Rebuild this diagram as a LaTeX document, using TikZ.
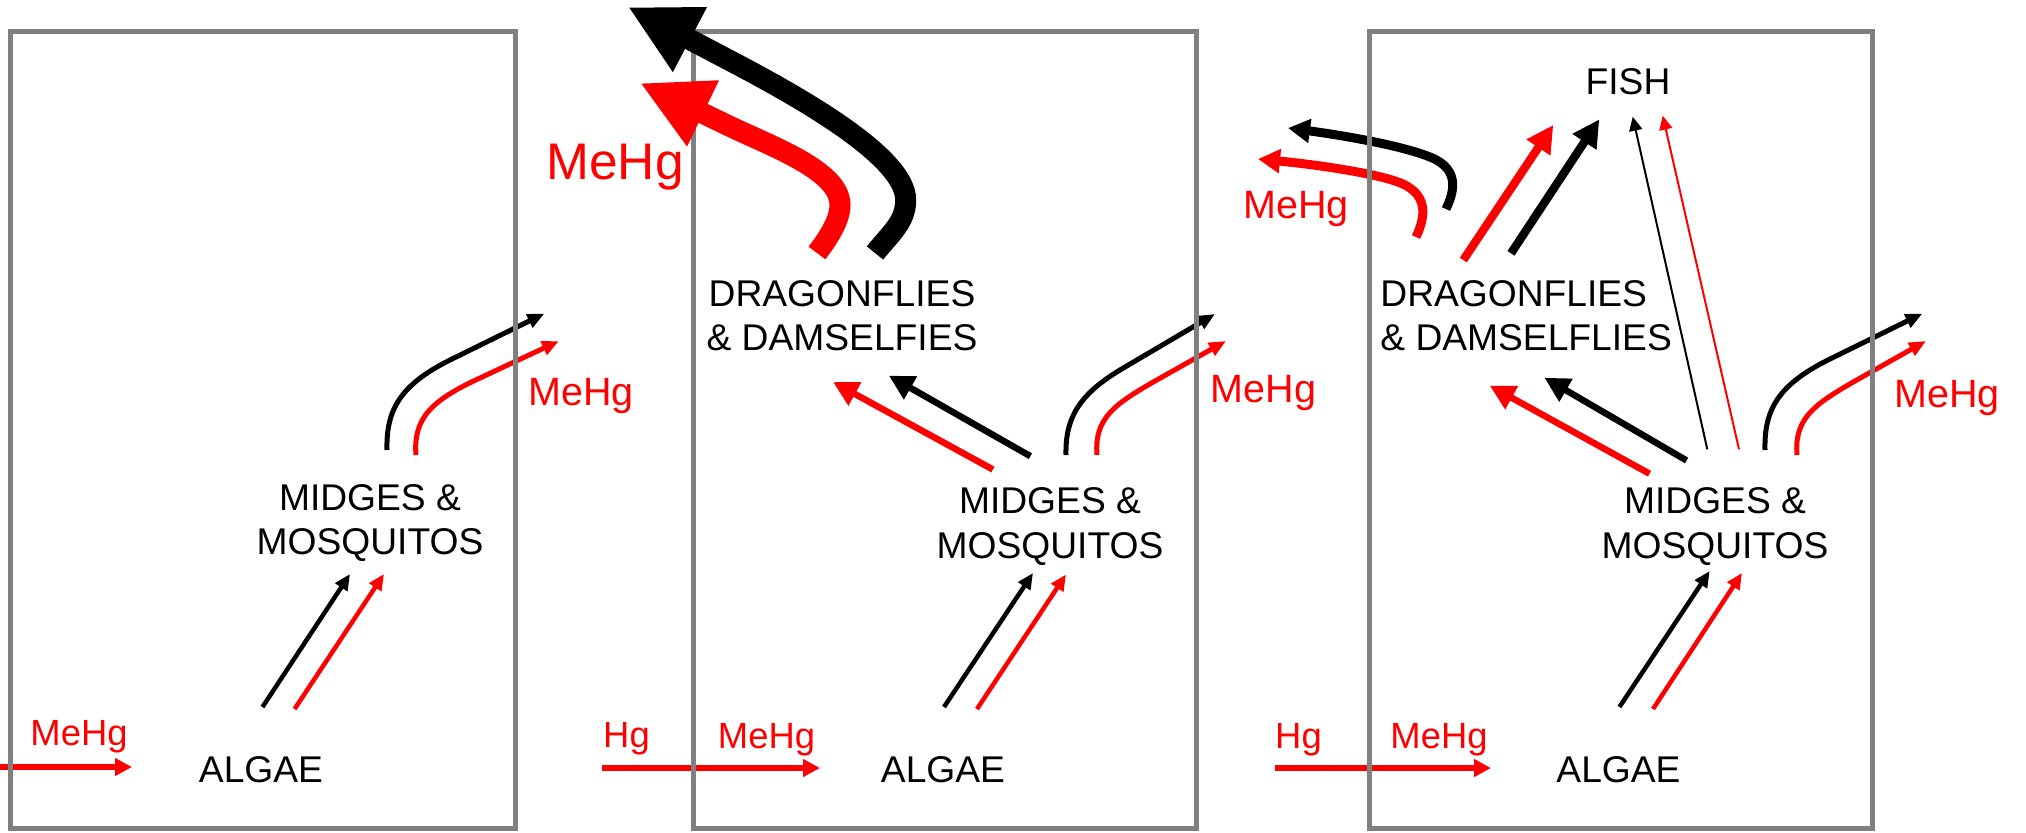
\documentclass[tikz,border=0pt]{standalone}
\usepackage{fontspec}
\setmainfont{Liberation Sans}
\usetikzlibrary{arrows.meta}
\definecolor{hgred}{RGB}{255,0,0}
\definecolor{panelgray}{RGB}{128,128,128}
\begin{document}
\begin{tikzpicture}[x=0.5pt,y=-0.5pt,
  panel/.style={draw=panelgray, line width=2.5pt},
  txt/.style={inner sep=0pt, anchor=base, text=black, font=\fontsize{18.6pt}{22.4pt}\selectfont},
  lowlbl/.style={inner sep=0pt, anchor=base, text=hgred, font=\fontsize{18.2pt}{22pt}\selectfont},
  uplbl/.style={inner sep=0pt, anchor=base, text=hgred, font=\fontsize{19.75pt}{24pt}\selectfont},
  biglbl/.style={inner sep=0pt, anchor=base, text=hgred, font=\fontsize{25.75pt}{30pt}\selectfont},
  feed/.style={line width=2.25pt, -{Triangle[length=8pt,width=7pt]}},
  emerge/.style={line width=2.5pt, -{Triangle[length=8.5pt,width=7pt]}},
  inflow/.style={line width=3pt, hgred, -{Triangle[length=8.5pt,width=8.5pt]}},
  prey/.style={line width=3.25pt, -{Triangle[length=12.5pt,width=12.5pt]}},
  eaten/.style={line width=4.2pt, -{Triangle[length=13.5pt,width=13.5pt]}},
  thinfeed/.style={line width=1pt, -{Triangle[length=7pt,width=6.5pt]}},
  adultout/.style={line width=4.5pt, -{Triangle[length=11pt,width=11.5pt]}},
  bigout/.style={line width=10.5pt, -{Triangle[length=35pt,width=34pt]}}]
\useasboundingbox (0,0) rectangle (2026,832);

% ---------- text ----------
\node[txt] (alg1) at (261,782) {ALGAE};
\node[txt] (mid1) at (370,510) {\begin{tabular}[t]{@{}c@{}}MIDGES \&\\MOSQUITOS\end{tabular}};
\node[txt] (alg2) at (943,782) {ALGAE};
\node[txt] (mid2) at (1050,513.5) {\begin{tabular}[t]{@{}c@{}}MIDGES \&\\MOSQUITOS\end{tabular}};
\node[txt] (dd2) at (842,306) {\begin{tabular}[t]{@{}c@{}}DRAGONFLIES\\\& DAMSELFIES\end{tabular}};
\node[txt] (alg3) at (1618.5,782.5) {ALGAE};
\node[txt] (mid3) at (1715,513.5) {\begin{tabular}[t]{@{}c@{}}MIDGES \&\\MOSQUITOS\end{tabular}};
\node[txt, anchor=base west] (dd3) at (1380,306) {\begin{tabular}[t]{@{}l@{}}DRAGONFLIES\\\& DAMSELFLIES\end{tabular}};
\node[txt] (fish) at (1628,94.4) {FISH};

\node[lowlbl] (in1) at (79,745) {MeHg};
\node[lowlbl] (hg12) at (626.5,747) {Hg};
\node[lowlbl] (in2) at (766.5,748) {MeHg};
\node[lowlbl] (hg23) at (1298.5,748) {Hg};
\node[lowlbl] (in3) at (1439,748) {MeHg};
\node[uplbl] (out1) at (581,405) {MeHg};
\node[uplbl] (out2) at (1263.5,402) {MeHg};
\node[uplbl] (out3) at (1947,407) {MeHg};
\node[uplbl] (out3dd) at (1296,218.3) {MeHg};
\node[biglbl] (out2dd) at (615,179) {MeHg};

% ---------- connector end points ----------
% inputs along the bottom
\coordinate (h1s) at (0,767);     \coordinate (h1e) at (132,767);
\coordinate (h2s) at (602,768);   \coordinate (h2e) at (820,768);
\coordinate (h3s) at (1275,768);  \coordinate (h3e) at (1491,768);
% algae to midges
\coordinate (am1ks) at (262.5,707);  \coordinate (am1ke) at (350,574);
\coordinate (am1rs) at (294.6,709);  \coordinate (am1re) at (384,574);
\coordinate (am2ks) at (944,707);    \coordinate (am2ke) at (1033,573);
\coordinate (am2rs) at (977,709);    \coordinate (am2re) at (1066,574.5);
\coordinate (am3ks) at (1619.4,707); \coordinate (am3ke) at (1709.7,571);
\coordinate (am3rs) at (1653,709);   \coordinate (am3re) at (1742,573);
% midges emerging
\coordinate (em1ks) at (387,450);   \coordinate (em1ke) at (544.5,313.5);
\coordinate (em1rs) at (416,455);   \coordinate (em1re) at (559,341);
\coordinate (em2ks) at (1066,455);  \coordinate (em2ke) at (1215,314);
\coordinate (em2rs) at (1097,455);  \coordinate (em2re) at (1226,341);
\coordinate (em3ks) at (1765,450);  \coordinate (em3ke) at (1922.5,313.5);
\coordinate (em3rs) at (1797,455);  \coordinate (em3re) at (1926,341);
% midges to dragonflies
\coordinate (md2ks) at (1030.4,456.2); \coordinate (md2ke) at (888.8,375.6);
\coordinate (md2rs) at (992.9,469.5);  \coordinate (md2re) at (833,382);
\coordinate (md3ks) at (1686.6,460.5); \coordinate (md3ke) at (1544.4,377.7);
\coordinate (md3rs) at (1649.5,473.7); \coordinate (md3re) at (1489.8,385.7);
% to fish
\coordinate (dfrs) at (1463.3,260);   \coordinate (dfre) at (1553.3,125);
\coordinate (dfks) at (1511,253.3);   \coordinate (dfke) at (1599.3,119.3);
\coordinate (mfks) at (1707.3,449.3); \coordinate (mfke) at (1632.7,116.7);
\coordinate (mfrs) at (1739,449.3);   \coordinate (mfre) at (1662.7,115.7);
% adult dragonflies leaving
\coordinate (do3ks) at (1446,209);  \coordinate (do3ke) at (1288,128);
\coordinate (do3rs) at (1416,237);  \coordinate (do3re) at (1258,159);
\coordinate (do2ks) at (875,253);   \coordinate (do2ke) at (628,7);
\coordinate (do2rs) at (817,253);   \coordinate (do2re) at (640,83);

% ---------- fluxes drawn beneath the panel frames ----------
\draw[inflow] (h1s) -- (h1e);
\draw[inflow] (h2s) -- (h2e);
\draw[inflow] (h3s) -- (h3e);

\draw[emerge, black] (em1ks) .. controls (386,410) and (400,385) .. (450,360) -- (em1ke);
\draw[emerge, hgred] (em1rs) .. controls (413,418) and (432,400) .. (480,378) -- (em1re);
\draw[emerge, black] (em2ks) .. controls (1065,415) and (1082,392) .. (1125,367) -- (em2ke);
\draw[emerge, hgred] (em2rs) .. controls (1094,418) and (1115,404) .. (1155,381) -- (em2re);
\draw[emerge, black] (em3ks) .. controls (1764,410) and (1778,385) .. (1828,360) -- (em3ke);
\draw[emerge, hgred] (em3rs) .. controls (1794,418) and (1815,404) .. (1855,381) -- (em3re);

\draw[adultout, black] (do3ks) .. controls (1452,196) and (1463,170) .. (1430,157)
   .. controls (1400,145) and (1340,135) .. (do3ke);
\draw[adultout, hgred] (do3rs) .. controls (1422,224) and (1434,195) .. (1398,182)
   .. controls (1370,172) and (1310,164) .. (do3re);

% ---------- panel frames ----------
\draw[panel] (10.5,31) rectangle (515.5,828.5);
\draw[panel] (693.5,31) rectangle (1196,828.5);
\draw[panel] (1369,31) rectangle (1872,828.5);

% ---------- fluxes inside the panels ----------
\draw[feed, black] (am1ks) -- (am1ke);
\draw[feed, hgred] (am1rs) -- (am1re);
\draw[feed, black] (am2ks) -- (am2ke);
\draw[feed, hgred] (am2rs) -- (am2re);
\draw[feed, black] (am3ks) -- (am3ke);
\draw[feed, hgred] (am3rs) -- (am3re);

\draw[prey, black] (md2ks) -- (md2ke);
\draw[prey, hgred] (md2rs) -- (md2re);
\draw[prey, black] (md3ks) -- (md3ke);
\draw[prey, hgred] (md3rs) -- (md3re);

\draw[eaten, hgred] (dfrs) -- (dfre);
\draw[eaten, black] (dfks) -- (dfke);
\draw[thinfeed, black] (mfks) -- (mfke);
\draw[thinfeed, hgred] (mfrs) -- (mfre);

% large export of adults from the middle panel
\draw[bigout, hgred] (do2rs) .. controls (829,237) and (840,220) .. (840,205)
   .. controls (840,170) and (770,146) .. (725,124) -- (do2re);
\draw[bigout, black] (do2ks) .. controls (890.5,233.5) and (905.7,222) .. (905.7,200)
   .. controls (905.7,155) and (791,92.5) .. (725,58) -- (do2ke);
\end{tikzpicture}
\end{document}
